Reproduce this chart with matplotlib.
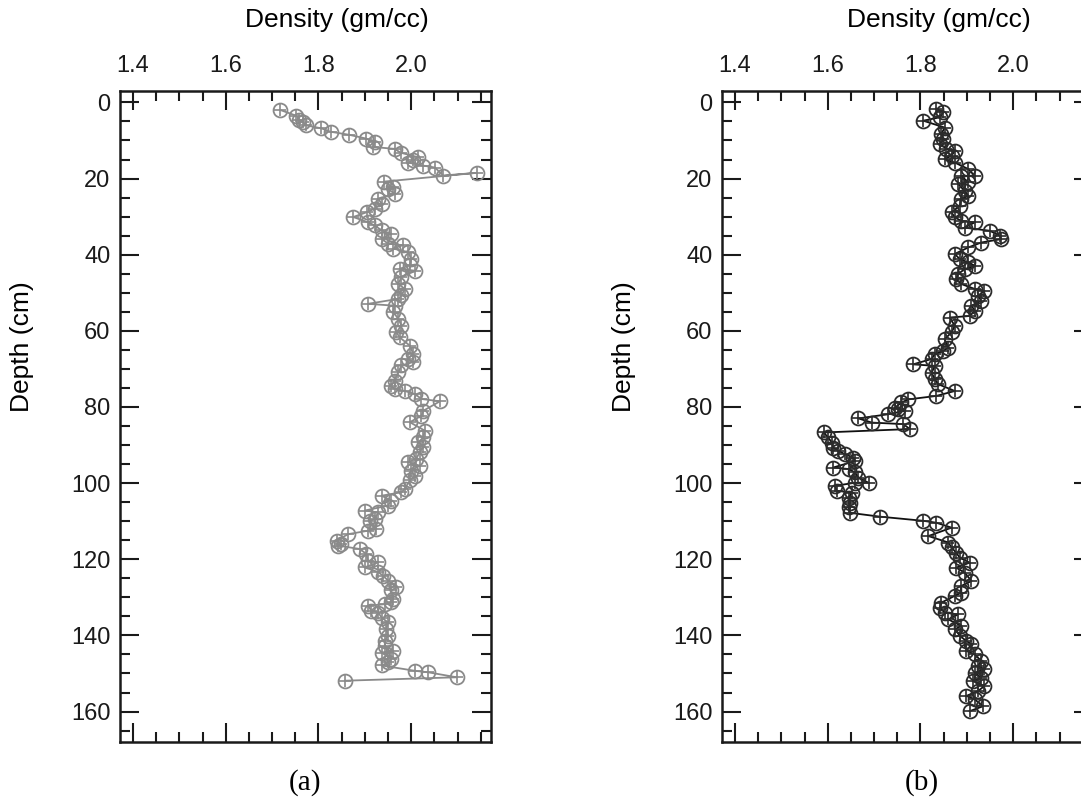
import matplotlib
matplotlib.use("Agg")
import matplotlib.pyplot as plt
from matplotlib.ticker import MultipleLocator, FormatStrFormatter

# core (a): depth (cm) and bulk density (gm/cc)
depth_a = [2, 3.5, 4.5, 5.2, 6, 6.8, 7.7, 8.5, 9.5, 10.5, 11.7, 12.2, 13.2, 14.4,
           15.2, 15.8, 16.6, 17.1, 19.2, 18.5, 20.8, 22.3, 22.7, 24.0, 25.3, 26.6,
           27.9, 28.8, 30.1, 31.5, 32.3, 33.6, 34.5, 35.8, 37.1, 37.5, 38.4, 39.3,
           41.1, 42.8, 43.7, 44.2, 45.9, 47.6, 49, 50.7, 51.6, 52.9, 53.4, 55.1,
           56.8, 58.6, 60.4, 61.7, 63.9, 66, 67.4, 68.2, 69.1, 70.9, 73.1, 74.4,
           75.3, 75.8, 76.6, 77.9, 78.5, 81, 82.3, 84, 86.2, 88, 89.3, 90.6, 91.9,
           93.6, 94.5, 95.4, 96.7, 98, 99.3, 101.5, 102.4, 103.3, 104.6, 105.9,
           107.2, 107.7, 109.4, 109.9, 112, 112.5, 113.4, 115.1, 116, 116.4, 117.3,
           118.6, 120.4, 120.8, 122.1, 123.4, 124.3, 125.6, 127.4, 128.2, 130.4,
           131.3, 131.8, 132.2, 133.5, 134, 135.3, 136.6, 138.3, 140.1, 141.4,
           142.7, 144, 144.5, 146.2, 147.1, 147.9, 149.3, 149.7, 151, 151.9]
density_a = [1.718, 1.752, 1.759, 1.767, 1.772, 1.806, 1.826, 1.866, 1.903, 1.921,
             1.918, 1.964, 1.977, 2.015, 2.004, 1.993, 2.026, 2.051, 2.069, 2.141,
             1.941, 1.961, 1.950, 1.964, 1.929, 1.936, 1.921, 1.905, 1.875, 1.907,
             1.921, 1.936, 1.957, 1.936, 1.950, 1.982, 1.961, 1.993, 2.000, 1.997,
             1.975, 2.008, 1.979, 1.972, 1.986, 1.979, 1.972, 1.907, 1.964, 1.961,
             1.972, 1.979, 1.968, 1.975, 1.997, 2.004, 1.993, 2.004, 1.979, 1.972,
             1.964, 1.957, 1.964, 1.986, 2.008, 2.022, 2.062, 2.026, 2.022, 1.997,
             2.029, 2.026, 2.015, 2.026, 2.018, 2.011, 1.993, 2.018, 2.000, 2.008,
             1.997, 1.986, 1.979, 1.936, 1.957, 1.950, 1.900, 1.929, 1.921, 1.911,
             1.925, 1.907, 1.864, 1.839, 1.849, 1.842, 1.889, 1.903, 1.907, 1.929,
             1.900, 1.929, 1.939, 1.950, 1.968, 1.957, 1.961, 1.957, 1.943, 1.907,
             1.914, 1.929, 1.936, 1.950, 1.946, 1.950, 1.943, 1.943, 1.961, 1.936,
             1.957, 1.950, 1.936, 2.008, 2.037, 2.098, 1.857]

# core (b)
depth_b = [1.6, 2.6, 3.9, 4.8, 6.6, 8.3, 9.6, 10.9, 12.2, 12.7, 14, 14.9, 15.8,
           17.5, 19.3, 19.3, 21, 21.4, 23.2, 24.5, 25.4, 27.1, 28.9, 30.2, 31.1,
           31.5, 32.9, 33.7, 35, 35.9, 36.8, 38.1, 39.8, 41.2, 42, 42.9, 43.8,
           45.1, 46.4, 47.7, 49, 49.5, 50.8, 52.1, 53.4, 54.7, 56.1, 56.5, 58.7,
           60.4, 62.2, 64.4, 65.3, 66.1, 67.4, 68.8, 69.2, 71, 72.7, 74, 75.8,
           77.1, 78, 78.8, 80.2, 80.6, 81, 81.9, 83, 84.1, 84.5, 85.8, 86.7, 88,
           89.4, 90.7, 91.5, 92.4, 93.3, 94.2, 95.9, 96.3, 97.2, 98.6, 99.9, 99.9,
           100.7, 102, 102.5, 103.8, 105.1, 106.4, 107.8, 108.8, 109.9, 110.4,
           111.7, 113.9, 115.6, 116.9, 118.3, 119.6, 120.9, 122.2, 123.5, 125.7,
           127, 128.8, 129.6, 131.4, 132.7, 134, 134.5, 135.8, 137.5, 138.4, 140.1,
           141.5, 142.3, 144.1, 145, 146.7, 148, 148.9, 149.8, 151.1, 152, 153.3,
           154.6, 155.9, 156.8, 158.6, 159.9]
density_b = [1.834, 1.849, 1.842, 1.806, 1.852, 1.845, 1.849, 1.842, 1.856, 1.874,
             1.867, 1.852, 1.874, 1.903, 1.917, 1.888, 1.903, 1.881, 1.895, 1.903,
             1.888, 1.885, 1.867, 1.874, 1.888, 1.917, 1.895, 1.949, 1.971, 1.974,
             1.931, 1.903, 1.874, 1.885, 1.903, 1.917, 1.895, 1.881, 1.877, 1.888,
             1.917, 1.938, 1.924, 1.931, 1.910, 1.917, 1.906, 1.863, 1.874, 1.867,
             1.852, 1.860, 1.849, 1.831, 1.824, 1.784, 1.831, 1.824, 1.831, 1.838,
             1.874, 1.834, 1.774, 1.759, 1.745, 1.752, 1.766, 1.731, 1.666, 1.695,
             1.763, 1.777, 1.591, 1.601, 1.609, 1.612, 1.623, 1.637, 1.655, 1.659,
             1.612, 1.645, 1.659, 1.666, 1.688, 1.659, 1.616, 1.619, 1.652, 1.645,
             1.648, 1.645, 1.648, 1.712, 1.806, 1.834, 1.867, 1.817, 1.860, 1.867,
             1.877, 1.885, 1.906, 1.877, 1.895, 1.910, 1.888, 1.888, 1.874, 1.845,
             1.842, 1.852, 1.881, 1.860, 1.888, 1.874, 1.885, 1.899, 1.910, 1.899,
             1.917, 1.931, 1.924, 1.938, 1.917, 1.931, 1.913, 1.938, 1.924, 1.899,
             1.917, 1.935, 1.906]

x_ticks = [1.4, 1.6, 1.8, 2.0]
y_ticks = [0, 20, 40, 60, 80, 100, 120, 140, 160]

plt.rcParams['font.family'] = ['Liberation Sans', 'DejaVu Sans']

W, H = 1081, 808
fig = plt.figure(figsize=(W / 100, H / 100), dpi=100)


def make_panel(left_px, depth, dens, color, lcolor, tag, tag_x):
    ax = fig.add_axes([left_px / W, (H - 742) / H, 371 / W, 651 / H])
    ax.plot(dens, depth, '-', color=lcolor, lw=1.3, marker='o', ms=10,
            mfc='none', mec=color, mew=1.3)
    ax.plot(dens, depth, '+', color=color, ms=9, mew=1.2)
    ax.set_xlim(1.372, 2.172)
    ax.set_ylim(168, -3)
    ax.set_xticks(x_ticks)
    ax.set_yticks(y_ticks)
    ax.xaxis.set_minor_locator(MultipleLocator(0.05))
    ax.yaxis.set_minor_locator(MultipleLocator(5))
    ax.xaxis.set_major_formatter(FormatStrFormatter('%.1f'))
    ax.tick_params(which='both', direction='in', top=True, bottom=True,
                   left=True, right=True, labeltop=True, labelbottom=False,
                   width=1.5, colors='#1a1a1a', labelsize=17)
    ax.tick_params(which='major', length=13.5)
    ax.tick_params(which='minor', length=7)
    ax.tick_params(axis='x', pad=10)
    ax.tick_params(axis='y', pad=7)
    for s in ax.spines.values():
        s.set_linewidth(1.8)
        s.set_color('#1a1a1a')
    ax.set_xlabel('Density (gm/cc)', fontsize=19, va='center')
    ax.xaxis.set_label_position('top')
    ax.xaxis.set_label_coords(0.585, 1.098)
    ax.set_ylabel('Depth (cm)', fontsize=19, va='center')
    ax.yaxis.set_label_coords(-0.264, 0.607)
    fig.text(tag_x / W, 1 - 783 / H, tag, ha='center', va='center',
             fontsize=21, family='Liberation Serif')
    return ax


make_panel(120, depth_a, density_a, '#8a8a8a', '#8a8a8a', '(a)', 305)
make_panel(722, depth_b, density_b, '#2b2b2b', '#111111', '(b)', 922)

fig.savefig('out.png', dpi=100)
